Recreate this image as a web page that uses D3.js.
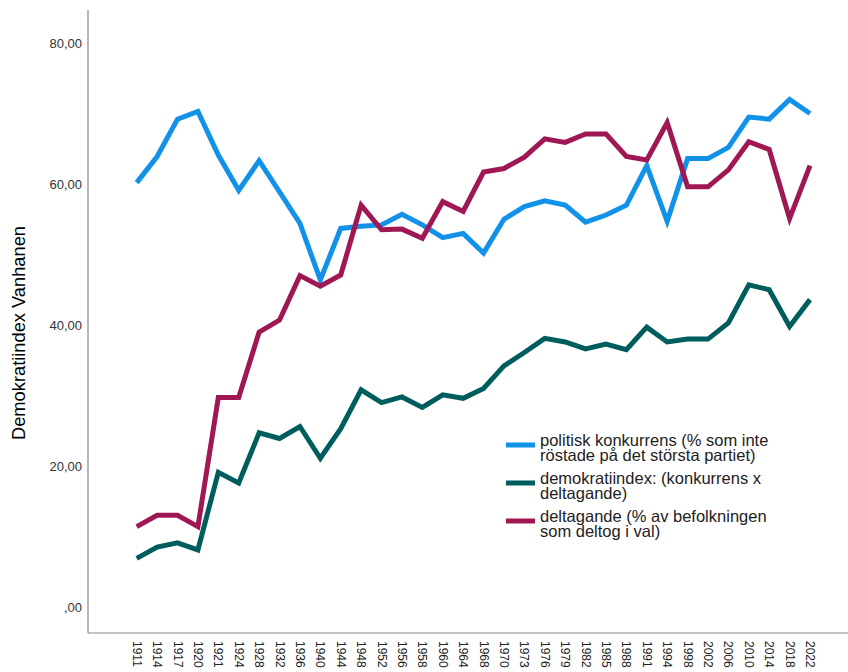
<!DOCTYPE html>
<html><head><meta charset="utf-8">
<script src="https://cdn.jsdelivr.net/npm/d3@7"></script>
<style>
html,body{margin:0;padding:0;background:#fff;}
svg{display:block;font-family:Arial,"Liberation Sans",sans-serif;}
</style></head>
<body><svg id="c" width="848" height="672"></svg>
<script>
const years = ["1911","1914","1917","1920","1921","1924","1928","1932","1936","1940","1944","1948","1952","1956","1958","1960","1964","1968","1970","1973","1976","1979","1982","1985","1988","1991","1994","1998","2002","2006","2010","2014","2018","2022"];
const konkurrens = [60.2,63.9,69.2,70.3,64.1,59.1,63.3,58.9,54.4,46.4,53.7,54.0,54.2,55.7,54.2,52.4,53.0,50.2,55.0,56.8,57.6,57.0,54.6,55.6,57.0,62.6,54.7,63.6,63.6,65.2,69.5,69.2,72.0,70.0];
const demokratiindex = [6.9,8.5,9.1,8.1,19.1,17.6,24.7,23.9,25.6,21.1,25.3,30.8,29.0,29.8,28.3,30.1,29.6,31.0,34.2,36.1,38.1,37.6,36.6,37.3,36.5,39.7,37.6,38.0,38.0,40.3,45.7,45.0,39.8,43.6];
const deltagande = [11.4,13.0,13.0,11.4,29.7,29.7,39.0,40.7,47.0,45.5,47.1,57.0,53.5,53.6,52.3,57.5,56.1,61.7,62.2,63.8,66.4,65.9,67.1,67.1,63.9,63.4,68.7,59.6,59.6,62.0,66.0,64.9,55.1,62.6];
const yTicks = [0,20,40,60,80];
const seriesNames = ["politisk konkurrens (% som inte|röstade på det största partiet)","demokratiindex: (konkurrens x|deltagande)","deltagande (% av befolkningen|som deltog i val)"];
const seriesColors = ["#1192e8","#005d5d","#9f1853"];
const seriesData = [konkurrens, demokratiindex, deltagande];

(function(){
const svg = d3.select("#c");
const mLeft = 88, mRight = 848, mTop = 10, mBottom = 633;
const x = d3.scalePoint().domain(years).range([136.7, 810]);
const y = d3.scaleLinear().domain([0, 80]).range([607, 43]);

svg.append("line").attr("x1",mLeft).attr("x2",mLeft).attr("y1",mTop).attr("y2",mBottom)
  .attr("stroke","#888").attr("stroke-width",1.2);
svg.append("line").attr("x1",mLeft).attr("x2",mRight).attr("y1",mBottom).attr("y2",mBottom)
  .attr("stroke","#888").attr("stroke-width",1.2);

const fmt = v => v === 0 ? ",00" : d3.format(".2f")(v).replace(".", ",");
svg.selectAll(".yt").data(yTicks).join("text")
  .attr("x", 82).attr("y", d => y(d)).attr("dy","0.35em")
  .attr("text-anchor","end").attr("font-size",13).attr("fill","#333")
  .text(fmt);

svg.selectAll(".xt").data(years).join("text")
  .attr("transform", d => `translate(${x(d)-4},641) rotate(90)`)
  .attr("text-anchor","start").attr("font-size",12).attr("fill","#222")
  .text(d => d);

svg.append("text").attr("transform","translate(25,333) rotate(-90)")
  .attr("text-anchor","middle").attr("font-size",19).attr("fill","#000")
  .attr("textLength",214).attr("lengthAdjust","spacingAndGlyphs")
  .text("Demokratiindex Vanhanen");

const line = d3.line().x((d,i) => x(years[i])).y(d => y(d));
seriesData.forEach((s, k) => {
  svg.append("path").datum(s).attr("d", line).attr("fill","none")
    .attr("stroke", seriesColors[k]).attr("stroke-width",5)
    .attr("stroke-linejoin","miter").attr("stroke-linecap","butt");
});

const legY = [445, 483, 521];
seriesNames.forEach((n, k) => {
  svg.append("line").attr("x1",506).attr("x2",535).attr("y1",legY[k]).attr("y2",legY[k])
    .attr("stroke",seriesColors[k]).attr("stroke-width",5);
  const parts = n.split("|");
  const t = svg.append("text").attr("x",540).attr("y",legY[k]+1).attr("font-size",16.5).attr("fill","#222");
  parts.forEach((p, j) => {
    t.append("tspan").attr("x",540).attr("dy", j === 0 ? 0 : 15).text(p);
  });
});
})();
</script></body></html>
